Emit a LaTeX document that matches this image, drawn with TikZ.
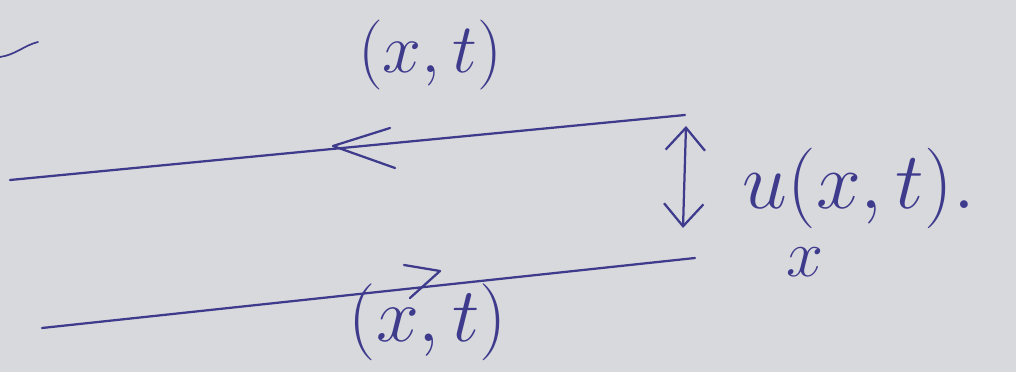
\documentclass[tikz,border=0pt]{standalone}
\usetikzlibrary{arrows.meta}
\definecolor{ink}{RGB}{62,58,140}
\definecolor{paper}{RGB}{216,217,221}
\tikzset{
  pen/.style={draw=ink, line width=1.6pt, line cap=round, line join=round},
  hand/.style={text=ink, font=\Huge, inner sep=0pt},
}
\begin{document}
\begin{tikzpicture}[x=0.025cm, y=-0.025cm]
\fill[paper] (0,0) rectangle (1016,372);
\useasboundingbox (0,0) rectangle (1016,372);
% stray mark
\coordinate (s1) at (0,57);
\coordinate (s2) at (38,42);
\draw[pen, line width=1.2pt] (s1) .. controls (15,55) and (25,45) .. (s2);
% top line, pointing left
\coordinate (tA) at (10,180);
\coordinate (tB) at (685,115);
\draw[pen] (tB) -- (tA);
\coordinate (tTip) at (333,146);
\coordinate (tU) at (390,128);
\coordinate (tL) at (395,168);
\draw[pen] (tU) -- (tTip) -- (tL);
% bottom line, pointing right
\coordinate (bA) at (42,328);
\coordinate (bB) at (695,258);
\draw[pen] (bA) -- (bB);
\coordinate (bTip) at (440,271);
\coordinate (bU) at (404,265);
\coordinate (bL) at (410,298);
\draw[pen] (bU) -- (bTip) -- (bL);
% double arrow
\coordinate (dT) at (686,126);
\coordinate (dB) at (683,228);
\draw[pen, {Straight Barb[length=16pt,width=28pt]}-{Straight Barb[length=16pt,width=28pt]}] (dT) -- (dB);
% labels
\node[hand, scale=2.0] (top) at (430,55) {$(x,t)$};
\node[hand, scale=2.2] (bot) at (428,322) {$(x,t)$};
\node[hand, anchor=west, scale=2.3] (ux) at (742,188) {$u(x,t).$};
\node[hand, scale=1.9] (sub) at (805,262) {$x$};
\end{tikzpicture}
\end{document}
